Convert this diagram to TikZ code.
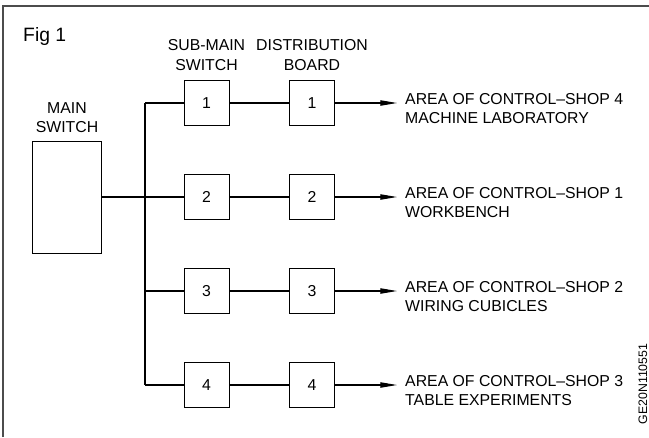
\documentclass[tikz,border=0pt]{standalone}
\usepackage{fontspec}
\setmainfont{Liberation Sans}
\usetikzlibrary{arrows.meta}
\tikzset{
  box/.style={draw,line width=0.8pt,minimum width=1.35cm,minimum height=1.35cm,inner sep=0pt},
  wire/.style={line width=0.9pt},
  area/.style={anchor=west,align=left,inner ysep=0pt,inner xsep=0.24cm}
}
\begin{document}
\begin{tikzpicture}[font=\fontsize{13.5}{16.5}\selectfont,x=0.03cm,y=-0.03cm]
  \useasboundingbox (0,0) rectangle (649,437);
  % frame
  \draw[line width=1.4pt,black!70] (3,437) -- (3,6) -- (649,6);
  \node[anchor=base west,inner sep=0pt,font=\fontsize{16.5}{19}\selectfont] (fig) at (23,41) {Fig 1};
  \node[align=center] (hsub) at (206.5,55) {SUB-MAIN\\SWITCH};
  \node[align=center] (hdist) at (312,55) {DISTRIBUTION\\BOARD};
  \node[align=center] (hmain) at (67,117.5) {MAIN\\SWITCH};
  \node[draw,line width=0.8pt,minimum width=2.07cm,minimum height=3.36cm] (ms) at (66.5,197) {};
  \coordinate (bt) at (145,103);
  \coordinate (bb) at (145,385);
  \draw[wire] (bt) -- (bb);
  \draw[wire] (ms.east) -- (ms.east -| bt);
  \foreach \i/\y/\txt in {1/103/{AREA OF CONTROL--SHOP 4\\MACHINE LABORATORY},2/197/{AREA OF CONTROL--SHOP 1\\WORKBENCH},3/291/{AREA OF CONTROL--SHOP 2\\WIRING CUBICLES},4/385/{AREA OF CONTROL--SHOP 3\\TABLE EXPERIMENTS}}{
    \node[box] (s\i) at (206.5,\y) {\i};
    \node[box] (d\i) at (312,\y) {\i};
    \node[area] (a\i) at (397,\y+5.5) {\txt};
    \draw[wire] (s\i.west -| bt) -- (s\i.west);
    \draw[wire] (s\i) -- (d\i);
    \draw[wire,-{Triangle[length=5mm,width=1.6mm]}] (d\i.east) -- (d\i.east -| a\i.west);
  }
  \node[rotate=90,font=\fontsize{10.5}{12}\selectfont,inner sep=0pt] (code) at (643,384) {GE20N110551};
\end{tikzpicture}
\end{document}
